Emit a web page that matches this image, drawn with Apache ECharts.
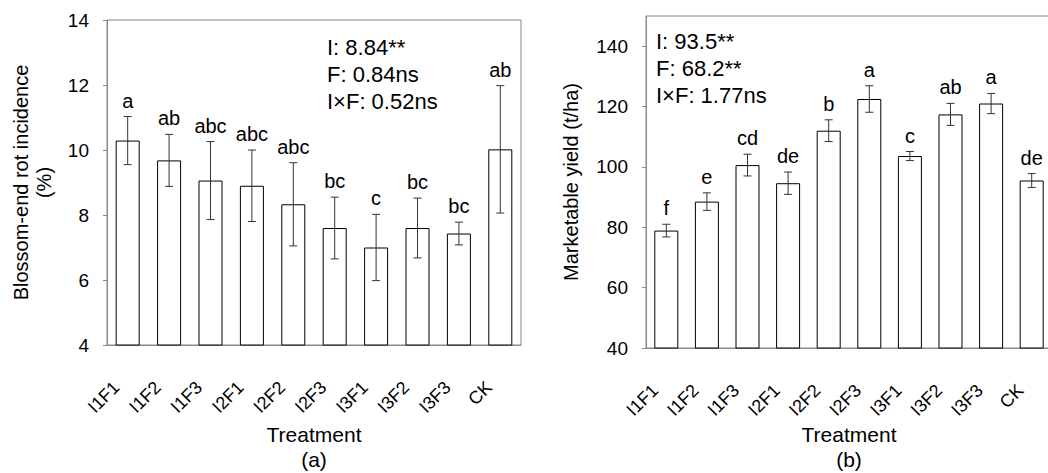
<!DOCTYPE html>
<html>
<head>
<meta charset="utf-8">
<script src="https://cdn.jsdelivr.net/npm/echarts@6/dist/echarts.min.js"></script>
<style>
  html, body { margin: 0; padding: 0; background: #fff; }
  #chart { width: 1048px; height: 473px; }
</style>
</head>
<body>
<div id="chart"></div>
<script>
// treatments on both panels
const treatments = ['I1F1', 'I1F2', 'I1F3', 'I2F1', 'I2F2', 'I2F3', 'I3F1', 'I3F2', 'I3F3', 'CK'];

// (a) blossom-end rot incidence, %
const rotMean = [10.29, 9.68, 9.06, 8.90, 8.33, 7.60, 7.00, 7.60, 7.43, 10.02];
const rotErr = [0.74, 0.80, 1.20, 1.10, 1.28, 0.95, 1.02, 0.92, 0.35, 1.96];
const rotLetters = ['a', 'ab', 'abc', 'abc', 'abc', 'bc', 'c', 'bc', 'bc', 'ab'];
const rotTicks = [4, 6, 8, 10, 12, 14];
const rotNotes = ['I: 8.84**', 'F: 0.84ns', 'I×F: 0.52ns'];

// (b) marketable yield, t/ha
const yieldMean = [78.9, 88.5, 100.6, 94.6, 112.0, 122.5, 103.6, 117.4, 121.0, 95.5];
const yieldErr = [2.1, 2.9, 3.6, 3.7, 3.6, 4.4, 1.5, 3.65, 3.35, 2.3];
const yieldLetters = ['f', 'e', 'cd', 'de', 'b', 'a', 'c', 'ab', 'a', 'de'];
const yieldTicks = [40, 60, 80, 100, 120, 140];
const yieldMax = 150;
const yieldNotes = ['I: 93.5**', 'F: 68.2**', 'I×F: 1.77ns'];

const FONT = '"Liberation Sans", Arial, sans-serif';
const GRAY = '#8a8a8a';

function errorBars(letters) {
  return function (params, api) {
    const i = api.value(0);
    const m = api.value(1);
    const e = api.value(2);
    const hi = api.coord([i, m + e]);
    const lo = api.coord([i, m - e]);
    const cap = 4;
    const st = { stroke: '#333', lineWidth: 1 };
    return {
      type: 'group',
      children: [
        { type: 'line', shape: { x1: hi[0], y1: hi[1], x2: lo[0], y2: lo[1] }, style: st },
        { type: 'line', shape: { x1: hi[0] - cap, y1: hi[1], x2: hi[0] + cap, y2: hi[1] }, style: st },
        { type: 'line', shape: { x1: lo[0] - cap, y1: lo[1], x2: lo[0] + cap, y2: lo[1] }, style: st },
        {
          type: 'text', x: hi[0], y: hi[1] - 16,
          style: {
            text: letters[params.dataIndex], fill: '#000', font: '20px ' + FONT,
            align: 'center', verticalAlign: 'middle'
          }
        }
      ]
    };
  };
}

function xAxisOf(grid, name, gap) {
  return {
    type: 'category',
    gridIndex: grid,
    data: treatments,
    axisLine: { lineStyle: { color: GRAY } },
    axisTick: { inside: true, length: 5, lineStyle: { color: GRAY } },
    axisLabel: {
      rotate: 45, margin: 28, padding: [0, 16, 0, 0],
      color: '#000', fontSize: 18, fontFamily: FONT
    },
    name: 'Treatment\n' + name,
    nameLocation: 'middle',
    nameGap: gap,
    nameMoveOverlap: false,
    nameTextStyle: { color: '#000', fontSize: 21, fontFamily: FONT, lineHeight: 25 }
  };
}

function yAxisOf(grid, min, max, ticks, name, gap) {
  return {
    type: 'value',
    gridIndex: grid,
    min: min,
    max: max,
    interval: ticks[1] - ticks[0],
    splitLine: { show: false },
    axisLine: { show: true, lineStyle: { color: GRAY } },
    axisTick: { show: true, length: 4, lineStyle: { color: GRAY }, customValues: ticks },
    axisLabel: { margin: 18, color: '#000', fontSize: 19, fontFamily: FONT, customValues: ticks },
    name: name,
    nameLocation: 'middle',
    nameRotate: 90,
    nameGap: gap,
    nameMoveOverlap: false,
    nameTextStyle: { color: '#000', fontSize: 20, fontFamily: FONT, lineHeight: 23 }
  };
}

function noteText(lines, x, y) {
  return {
    type: 'text', left: x, top: y,
    style: { text: lines.join('\n'), fill: '#000', font: '22px ' + FONT, lineHeight: 27 }
  };
}

const chart = echarts.init(document.getElementById('chart'), null, { renderer: 'svg' });

const option = {
  animation: false,
  backgroundColor: '#fff',
  grid: [
    {
      left: 107, top: 20, width: 414, height: 325, outerBoundsMode: 'none',
      show: true, borderColor: GRAY, borderWidth: 1
    },
    {
      left: 646, top: 16, width: 406, height: 332, outerBoundsMode: 'none',
      show: true, borderColor: GRAY, borderWidth: 1
    }
  ],
  xAxis: [xAxisOf(0, '(a)', 77), xAxisOf(1, '(b)', 74)],
  yAxis: [
    yAxisOf(0, rotTicks[0], rotTicks[rotTicks.length - 1], rotTicks, 'Blossom-end rot incidence\n(%)', 52),
    yAxisOf(1, yieldTicks[0], yieldMax, yieldTicks, 'Marketable yield (t/ha)', 64)
  ],
  series: [
    {
      type: 'bar', xAxisIndex: 0, yAxisIndex: 0, data: rotMean, barWidth: 24,
      itemStyle: { color: '#fff', borderColor: '#000', borderWidth: 1 }
    },
    {
      type: 'custom', xAxisIndex: 0, yAxisIndex: 0, z: 3,
      renderItem: errorBars(rotLetters),
      data: rotMean.map((m, i) => [i, m, rotErr[i]])
    },
    {
      type: 'bar', xAxisIndex: 1, yAxisIndex: 1, data: yieldMean, barWidth: 24,
      itemStyle: { color: '#fff', borderColor: '#000', borderWidth: 1 }
    },
    {
      type: 'custom', xAxisIndex: 1, yAxisIndex: 1, z: 3,
      renderItem: errorBars(yieldLetters),
      data: yieldMean.map((m, i) => [i, m, yieldErr[i]])
    }
  ],
  graphic: [noteText(rotNotes, 327, 34), noteText(yieldNotes, 656, 28)]
};

chart.setOption(option);
window.addEventListener('resize', () => chart.resize());
</script>
</body>
</html>
